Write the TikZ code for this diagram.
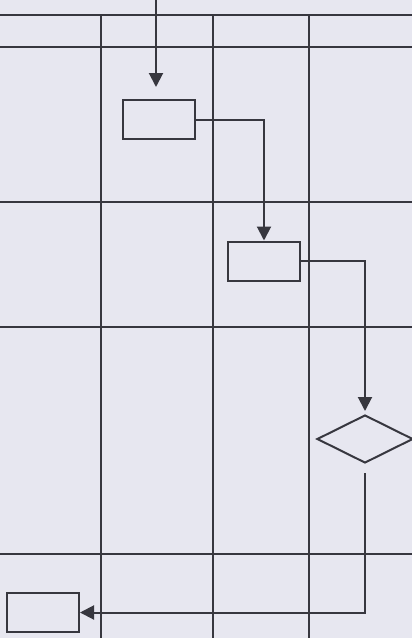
\documentclass[tikz,border=0pt]{standalone}
\usetikzlibrary{shapes.geometric,arrows.meta}
\definecolor{paper}{RGB}{231,231,240}
\definecolor{ink}{RGB}{55,55,63}
\begin{document}
\begin{tikzpicture}[x=1pt,y=-1pt,
  proc/.style={rectangle,draw=ink,line width=2pt,minimum width=72pt,minimum height=39pt,inner sep=0pt},
  dec/.style={diamond,draw=ink,line width=2pt,shape aspect=2,minimum width=96pt,minimum height=48pt,inner sep=0pt},
  flow/.style={draw=ink,line width=2pt,-{Triangle[length=14pt,width=14pt]}},
  grid/.style={draw=ink,line width=1.6pt}]
\fill[paper] (0,0) rectangle (412,638);
\useasboundingbox (0,0) rectangle (412,638);

% table
\foreach \y in {15,47,202,327,554}
  \draw[grid] (0,\y) -- (412,\y);
\foreach \x in {101,213,309}
  \draw[grid] (\x,15) -- (\x,638);

% flow
\coordinate (start) at (156,0);
\node (box1) [proc] at (159,119.5) {};
\node (box2) [proc] at (264,261) {};
\node (check) [dec] at (365,439) {};
\node (box3) [proc] at (43,612.5) {};

\draw[flow,shorten >=12pt] (start) -- (start |- box1.north);
\draw[flow] (box1.east) -| (box2.north);
\draw[flow,shorten >=3pt] (box2.east) -| (check.north);
\draw[flow,shorten <=9pt] (check.south) |- (box3.east);

\end{tikzpicture}
\end{document}
